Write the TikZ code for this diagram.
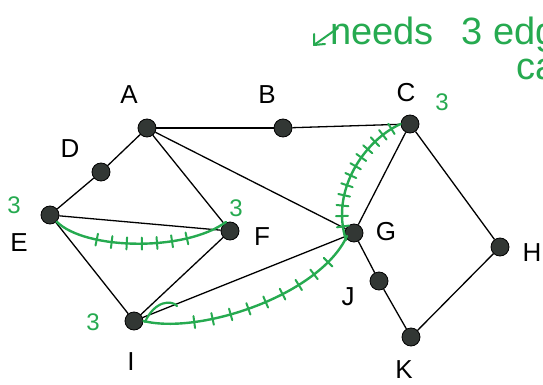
\documentclass[tikz,border=0pt]{standalone}
\usepackage{fontspec}
\setmainfont{Liberation Sans}
\usetikzlibrary{decorations.markings}
\definecolor{pen}{RGB}{38,170,80}
\definecolor{dotfill}{RGB}{50,55,52}
\tikzset{
  vtx/.style={circle,draw=black,fill=dotfill,line width=0.8pt,minimum size=18pt,inner sep=0pt},
  lbl/.style={font=\fontsize{26}{28}\selectfont,text=black},
  glbl/.style={font=\fontsize{24}{26}\selectfont,text=pen},
  notetext/.style={font=\fontsize{38}{40}\selectfont,text=pen,anchor=base west,inner sep=0pt},
  edge/.style={line width=1.3pt,black},
  hatch/.style={pen,line width=2.4pt,line cap=round,
    postaction={decorate,decoration={markings,
      mark=between positions #1 with {\draw[pen,line width=2pt,line cap=round] (0,-6)--(0,6);}}}}
}
\begin{document}
\begin{tikzpicture}[x=1pt,y=-1pt]
\clip (0,0) rectangle (543,385);
\fill[white] (0,0) rectangle (543,385);
% vertices
\node[vtx] (A) at (147,128) {};
\node[vtx] (B) at (283,128) {};
\node[vtx] (C) at (410,124) {};
\node[vtx] (D) at (101,172) {};
\node[vtx] (E) at (50,215) {};
\node[vtx] (F) at (230,231) {};
\node[vtx] (G) at (354,233) {};
\node[vtx] (H) at (500,247) {};
\node[vtx] (J) at (379,281) {};
\node[vtx] (K) at (411,337) {};
\node[vtx] (I) at (134,321) {};
% labels
\node[lbl] (lA) at (129,95) {A};
\node[lbl] (lB) at (267,95) {B};
\node[lbl] (lC) at (406,93) {C};
\node[lbl] (lD) at (70,149) {D};
\node[lbl] (lE) at (19,243) {E};
\node[lbl] (lF) at (262,237) {F};
\node[lbl] (lG) at (386,232) {G};
\node[lbl] (lH) at (532,253) {H};
\node[lbl] (lJ) at (348,297) {J};
\node[lbl] (lK) at (404,370) {K};
\node[lbl] (lI) at (131,362) {I};
% edges
\draw[edge] (A) -- (B);
\draw[edge] (B) -- (C);
\draw[edge] (A) -- (D);
\draw[edge] (D) -- (E);
\draw[edge] (A) -- (F);
\draw[edge] (A) -- (G);
\draw[edge] (E) -- (F);
\draw[edge] (E) -- (I);
\draw[edge] (F) -- (I);
\draw[edge] (I) -- (G);
\draw[edge] (G) -- (C);
\draw[edge] (C) -- (H);
\draw[edge] (H) -- (K);
\draw[edge] (G) -- (J);
\draw[edge] (J) -- (K);
% green hatched paths
\draw[hatch={0.25 and 0.8 step 0.085}] (E.south east) .. controls (85,250) and (185,252) .. (226,222);
\draw[hatch={0.22 and 0.92 step 0.08}] (I.east) .. controls (200,335) and (320,295) .. (347,236);
\draw[pen,line width=2.2pt,line cap=round] (145,322) .. controls (155,300) and (172,300) .. (177,306);
\draw[hatch={0.1 and 0.95 step 0.075}] (346,240) .. controls (330,190) and (365,140) .. (C.west);
% green numbers
\node[glbl] (n1) at (14,205) {3};
\node[glbl] (n2) at (236,208) {3};
\node[glbl] (n3) at (442,102) {3};
\node[glbl] (n4) at (93,322) {3};
% note
\node[notetext,text depth=0pt] (note) at (330,45) {needs\hspace{28pt}3 edges};
\node[notetext,text height=20pt] (note2) at (516,80) {can};
\coordinate (arS) at (338,28);
\coordinate (arE) at (314,45);
\draw[pen,line width=2pt,line cap=round,line join=round] (arS) -- (arE) -- (314,34);
\draw[pen,line width=2pt,line cap=round] (arE) -- (325,44);
\end{tikzpicture}
\end{document}
